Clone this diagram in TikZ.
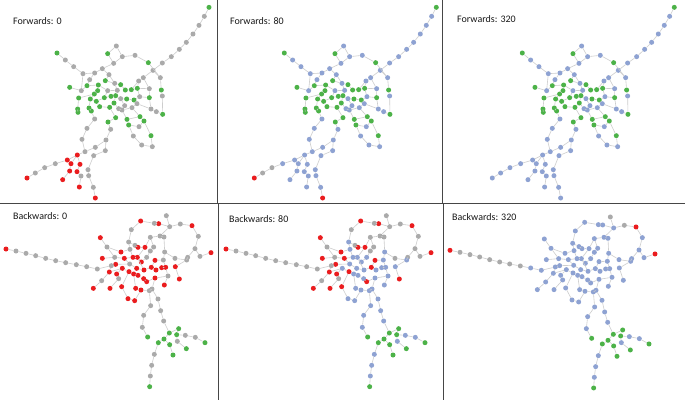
\documentclass[tikz,border=0pt]{standalone}
\usepackage{fontspec}
\setmainfont{Carlito}
\usepackage{tikz}
\definecolor{netg}{RGB}{76,178,72}
\definecolor{netr}{RGB}{234,28,30}
\definecolor{netk}{RGB}{170,170,170}
\definecolor{netb}{RGB}{142,162,210}
\definecolor{netlink}{RGB}{205,205,205}
\definecolor{framec}{RGB}{70,70,70}
\definecolor{textc}{RGB}{25,25,25}
\tikzset{
  dot/.style={circle, inner sep=0pt, minimum size=5pt, draw=none, fill=net#1},
  link/.style={draw=netlink, line width=0.6pt},
  frameline/.style={draw=framec, line width=1pt},
  lbl/.style={anchor=west, inner sep=0pt, text=textc, font=\fontsize{10}{12}\selectfont}
}
% forward layout: id/x/y/colour at 0/80/320
\def\fwdnodes{1/627/22/g/g/g, 2/613/49/k/b/b, 3/597/76/k/b/b, 4/579/102/k/b/b,
  5/559/127/k/b/b, 6/538/148/k/b/b, 7/514/170/k/b/b, 8/487/189/k/b/b,
  9/459/211/k/b/b, 10/430/233/k/b/b, 11/481/233/k/b/b, 12/445/188/g/g/g,
  13/405/166/k/b/b, 14/367/170/k/b/b, 15/349/138/k/b/b, 16/323/161/g/g/g,
  17/341/190/k/b/b, 18/307/206/k/b/b, 19/327/224/k/b/b, 20/284/219/k/b/b,
  21/249/221/k/b/b, 22/221/200/k/b/b, 23/196/180/k/b/b, 24/171/159/g/g/g,
  25/269/239/k/b/b, 26/316/242/g/g/g, 27/344/250/k/b/b, 28/362/254/g/g/g,
  29/416/243/k/b/b, 30/209/262/g/g/g, 31/244/272/k/b/b, 32/261/257/g/g/g,
  33/295/255/g/g/g, 34/293/272/g/g/g, 35/283/282/g/g/g, 36/323/272/k/b/b,
  37/352/271/k/b/b, 38/376/270/g/g/g, 39/394/269/g/g/g, 40/412/265/g/g/g,
  41/448/266/k/b/b, 42/484/270/g/g/g, 43/487/288/k/b/b, 44/236/294/g/g/g,
  45/271/297/g/g/g, 46/289/304/g/g/g, 47/313/293/g/g/g, 48/333/289/g/g/g,
  49/347/287/g/g/g, 50/362/296/k/b/b, 51/380/297/g/g/g, 52/402/300/g/g/g,
  53/419/290/k/b/b, 54/448/293/g/g/g, 55/233/327/g/g/g, 56/234/337/g/g/g,
  57/267/324/g/g/g, 58/274/333/g/g/g, 59/299/320/g/g/g, 60/329/322/g/g/g,
  61/342/309/g/g/g, 62/356/326/k/b/b, 63/374/317/k/b/b, 64/366/330/k/b/b,
  65/396/323/k/b/b, 66/411/311/k/b/b, 67/453/327/k/b/b, 68/469/335/k/b/b,
  69/488/343/g/g/g, 70/284/357/k/b/b, 71/347/353/g/g/g, 72/324/366/g/g/g,
  73/381/358/g/g/g, 74/386/375/g/g/g, 76/420/350/g/g/g, 77/432/363/g/g/g,
  78/417/380/k/b/b, 79/261/385/k/b/b, 80/332/388/k/b/b, 81/453/407/g/g/g,
  82/400/408/k/b/b, 83/246/418/k/b/b, 84/318/420/k/b/b, 85/425/435/k/b/b,
  86/457/440/k/b/b, 87/286/442/k/b/b, 88/255/455/k/b/b, 89/316/452/k/b/b,
  90/232/465/r/b/b, 91/281/467/k/b/b, 92/202/480/r/b/b, 93/213/491/r/b/b,
  94/240/493/r/b/b, 95/166/491/k/b/b, 96/134/503/k/k/b, 97/106/519/k/k/b,
  98/81/534/r/r/b, 99/209/513/r/b/b, 100/231/515/r/b/b, 101/264/509/k/b/b,
  102/243/528/k/b/b, 103/266/527/k/b/b, 104/188/539/r/b/b, 105/238/561/r/b/b,
  106/280/562/k/b/b, 107/286/594/r/r/b}
\def\fwdedges{1/2,2/3,3/4,4/5,5/6,6/7,7/8,8/9,9/10,9/11,
  15/14,15/16,16/17,14/13,13/12,12/11,14/17,
  17/18,18/20,20/21,21/22,22/23,23/24,18/19,19/26,20/25,25/32,21/31,
  10/29,29/40,10/41,11/42,42/43,43/69,69/68,68/67,
  26/27,27/28,19/27,27/37,28/38,38/39,39/40,40/41,29/39,
  30/31,31/32,32/33,33/34,34/35,35/44,33/36,36/37,36/47,37/49,47/48,48/49,
  49/50,50/51,51/52,52/53,53/54,54/41,40/53,
  35/45,45/46,46/47,44/55,55/56,45/57,57/58,46/59,59/60,60/61,61/49,61/62,
  62/63,63/50,62/64,64/65,65/66,66/52,66/67,54/67,
  58/70,70/79,79/83,83/88,88/90,90/92,92/95,95/96,96/97,97/98,
  60/71,71/72,72/80,64/73,73/74,73/76,76/77,77/78,78/74,74/82,82/85,85/86,
  86/81,81/77,65/76,
  80/84,84/87,87/88,84/89,89/91,91/101,90/93,90/94,93/99,99/104,94/100,
  100/102,102/105,101/103,103/106,106/107}
% backward layout
\def\bwdnodes{1/18/147/r/r/r, 2/48/153/k/k/k, 3/78/160/k/k/k, 4/107/167/k/k/k,
  5/137/175/k/k/k, 6/167/182/k/k/k, 7/197/188/k/k/k, 8/229/194/k/k/k,
  9/260/200/k/k/b, 10/292/207/k/k/b, 11/422/63/r/r/b, 12/463/70/k/k/b,
  13/476/71/r/r/b, 14/499/47/k/k/k, 15/509/80/k/k/b, 16/541/72/k/k/k,
  17/576/77/r/r/r, 18/595/109/k/k/b, 19/585/146/k/k/b, 20/600/169/k/k/b,
  21/633/158/r/r/r, 22/563/172/k/k/b, 23/560/180/k/b/b, 24/525/175/k/k/b,
  25/526/200/r/b/b, 26/538/237/r/r/b, 27/394/89/k/k/b, 28/386/126/k/b/b,
  29/405/136/k/k/b, 30/414/142/r/r/b, 31/435/142/r/r/b, 32/451/112/k/k/b,
  33/480/108/k/k/b, 34/492/111/k/k/b, 35/461/141/k/k/b, 36/494/156/k/b/b,
  37/301/113/r/r/b, 38/321/141/k/k/b, 39/363/156/r/r/b, 40/390/148/k/b/b,
  42/451/153/k/k/b, 43/307/175/r/r/b, 44/344/172/k/k/b, 45/373/175/r/r/b,
  46/399/172/r/b/b, 47/412/172/r/b/b, 48/424/186/r/b/b, 49/465/181/r/r/b,
  50/440/172/k/b/b, 51/490/180/k/b/b, 52/347/193/r/r/b, 53/389/192/k/b/b,
  54/410/205/r/b/b, 55/432/210/r/b/b, 56/454/202/r/r/b, 57/468/210/r/b/b,
  58/485/203/r/b/b, 59/497/202/r/b/b, 60/334/197/k/k/b, 61/328/216/r/r/b,
  62/367/205/r/b/b, 63/387/215/r/r/b, 64/401/222/r/b/b, 65/414/226/r/b/b,
  66/350/222/r/r/b, 67/356/236/k/k/b, 68/431/236/r/b/b, 69/440/245/r/r/b,
  70/465/234/r/b/b, 71/504/228/k/b/b, 72/305/242/k/k/b, 73/280/265/r/r/b,
  74/330/265/r/r/b, 75/365/260/r/r/b, 76/407/265/r/b/b, 77/423/270/r/b/b,
  78/448/272/k/b/b, 79/456/267/k/b/b, 80/493/255/r/b/b, 81/384/296/r/b/b,
  82/404/302/r/b/b, 83/474/297/k/b/b, 84/452/317/k/b/b, 85/482/332/k/b/b,
  86/431/346/k/b/b, 87/491/363/k/b/b, 88/427/382/k/b/b, 89/536/386/g/g/g,
  90/508/399/g/g/g, 91/530/404/g/g/g, 92/443/411/g/g/g, 93/492/417/g/g/g,
  94/475/428/g/g/g, 95/509/434/g/g/g, 96/556/406/k/b/b, 97/586/412/k/b/b,
  98/615/428/g/g/g, 99/532/424/k/b/b, 100/559/446/g/g/g, 101/519/465/g/g/g,
  102/463/463/k/b/b, 103/455/496/k/b/b, 104/451/528/k/b/b, 105/449/560/g/g/g}
\def\bwdedges{1/2,2/3,3/4,4/5,5/6,6/7,7/8,8/9,9/10,10/60,
  27/11,11/12,12/13,13/15,14/15,15/16,16/17,17/18,18/19,19/22,19/20,20/21,
  22/23,23/24,24/36,23/25,25/26,
  15/33,33/34,32/33,32/35,34/36,35/42,27/28,28/29,29/30,30/31,31/32,28/40,
  36/51,42/50,
  37/38,38/39,38/44,39/40,40/46,43/44,44/45,45/46,46/47,47/48,48/50,49/51,
  49/56,51/59,52/60,52/53,53/45,53/54,54/55,55/56,56/57,57/58,58/59,59/71,
  60/61,61/62,62/63,63/64,64/65,65/68,68/69,69/70,70/71,71/80,61/72,72/73,
  66/67,67/74,66/62,75/63,76/64,76/77,77/78,78/79,79/70,75/81,81/82,82/77,
  79/83,78/84,83/85,84/86,86/88,88/92,85/87,87/90,90/89,90/93,93/94,94/102,
  102/103,103/104,104/105,89/91,91/96,96/97,97/98,91/99,99/100,93/95,95/101,
  47/55,31/47}
% #1 name prefix, #2 nodes, #3 edges, #4 which colouring
\newcommand\drawnet[4]{%
  \foreach \n/\x/\y/\ca/\cb/\cc in #2 {
    \edef\dotcol{\ifcase#4\or\ca\or\cb\or\cc\fi}
    \edef\dotnode{\noexpand\node[dot=\dotcol] (#1\n) at (\x,\y) {};}
    \dotnode
  }
  \foreach \a/\b in #3 \draw[link] (#1\a) -- (#1\b);
}

\begin{document}
\begin{tikzpicture}[x=1pt,y=-1pt]
  \useasboundingbox[fill=white] (0,0) rectangle (685,400);

  %%%%% forwards %%%%%
  \begin{scope}[shift={(0,0)},scale=1/3]
    \drawnet{fa}{\fwdnodes}{\fwdedges}{1}
  \end{scope}
  \begin{scope}[shift={(227.3,0)},scale=1/3]
    \drawnet{fb}{\fwdnodes}{\fwdedges}{2}
  \end{scope}
  \begin{scope}[shift={(465.3,0)},scale=1/3]
    \drawnet{fc}{\fwdnodes}{\fwdedges}{3}
  \end{scope}

  %%%%% backwards %%%%%
  \begin{scope}[shift={(0,200)},scale=1/3]
    \drawnet{ba}{\bwdnodes}{\bwdedges}{1}
  \end{scope}
  \begin{scope}[shift={(220,200)},scale=1/3]
    \drawnet{bb}{\bwdnodes}{\bwdedges}{2}
  \end{scope}
  \begin{scope}[shift={(444,201.3)},scale=1/3]
    \drawnet{bc}{\bwdnodes}{\bwdedges}{3}
  \end{scope}

  %%%%% frames %%%%%
  \draw[frameline] (0,203.5) -- (685,203.5);
  \draw[frameline] (217.5,0) -- (217.5,203.5);
  \draw[frameline] (442.5,0) -- (442.5,203.5);
  \draw[frameline] (218.5,203.5) -- (218.5,400);
  \draw[frameline] (443.5,203.5) -- (443.5,400);

  %%%%% labels %%%%%
  \node[lbl] (tfa) at (13,21) {Forwards: 0};
  \node[lbl] (tfb) at (230,21) {Forwards: 80};
  \node[lbl] (tfc) at (457,19) {Forwards: 320};
  \node[lbl] (tba) at (13,216) {Backwards: 0};
  \node[lbl] (tbb) at (229,219) {Backwards: 80};
  \node[lbl] (tbc) at (452,217) {Backwards: 320};
\end{tikzpicture}
\end{document}
